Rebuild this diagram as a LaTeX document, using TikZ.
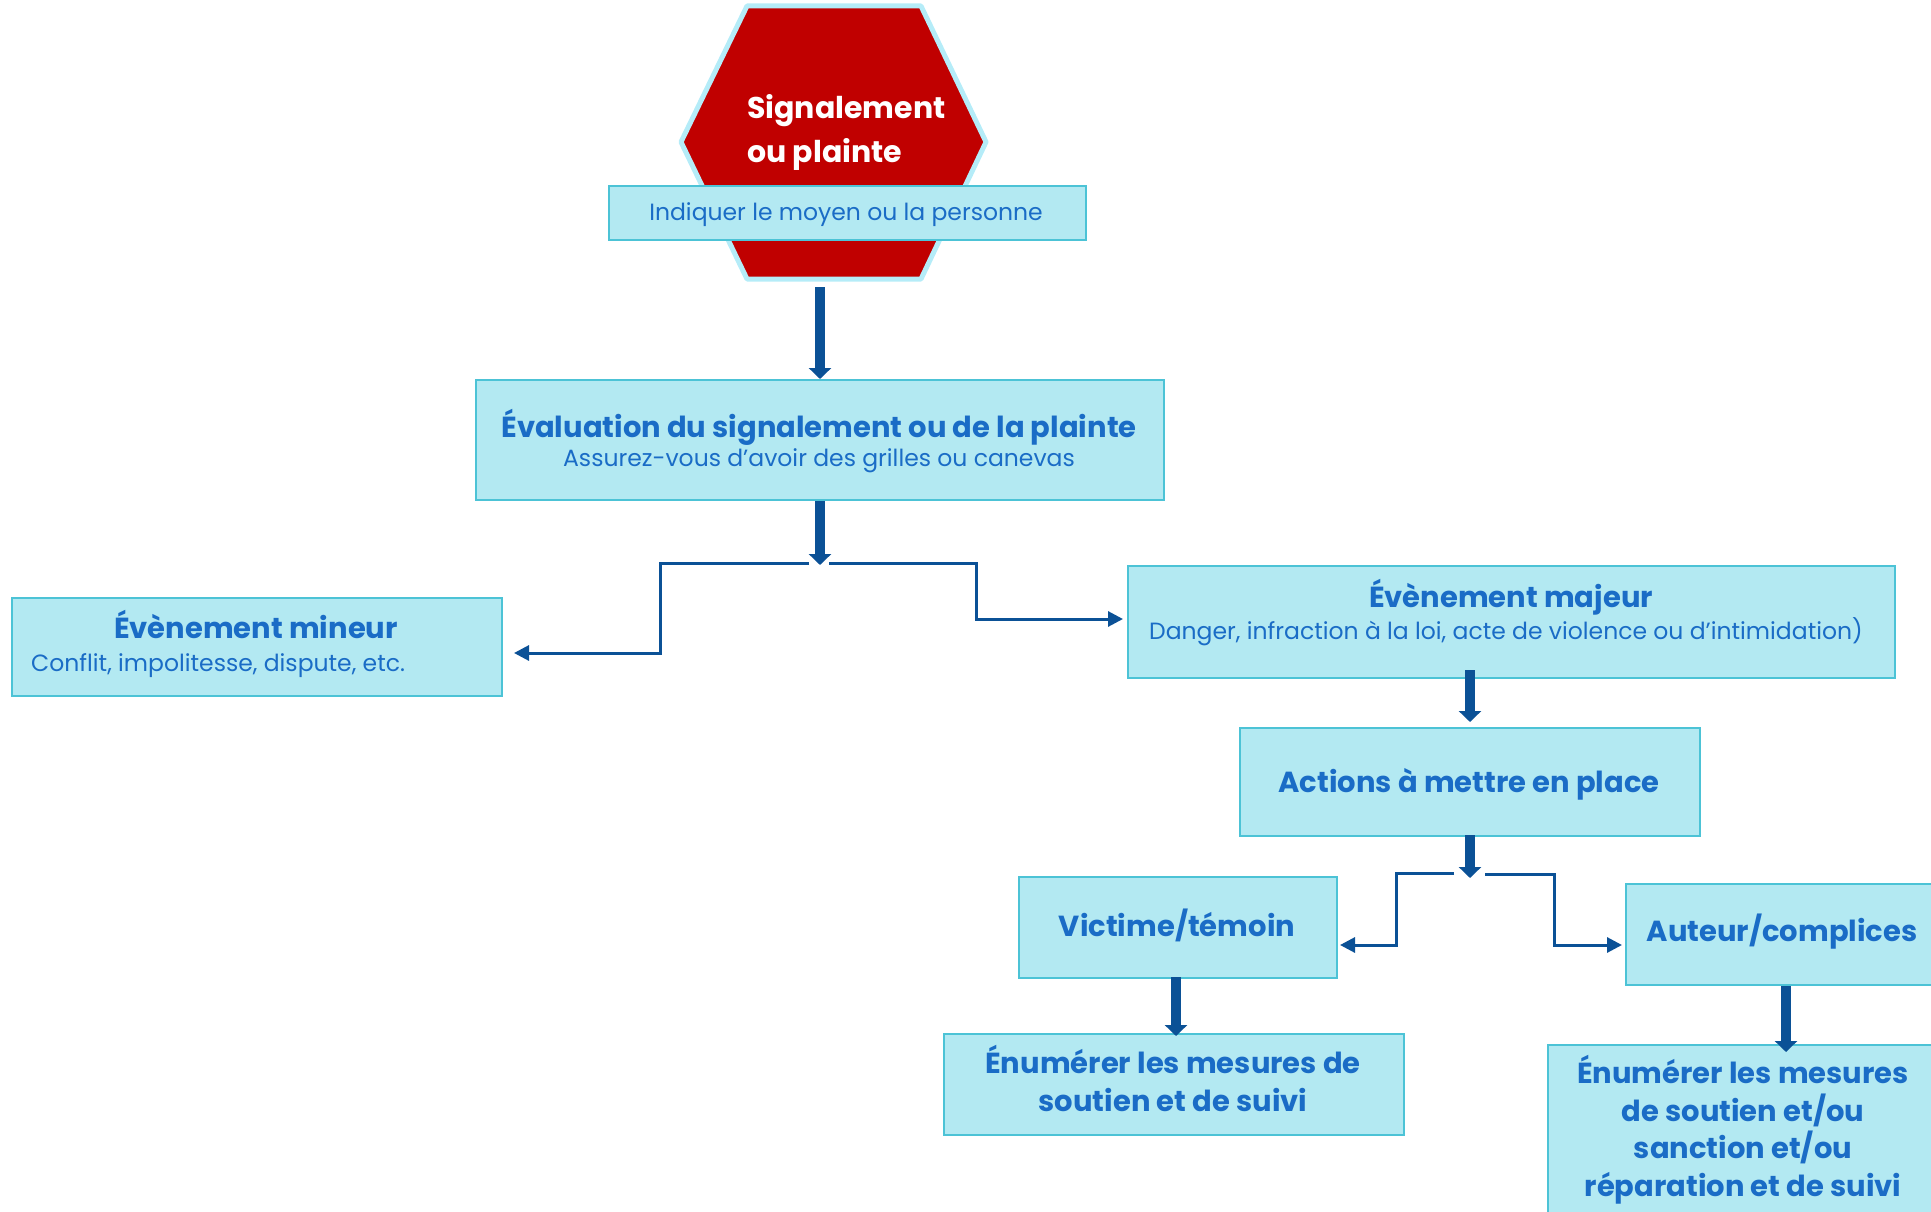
\documentclass[tikz,border=0pt]{standalone}
\usepackage{fontspec}
\setmainfont{Poppins}
\usetikzlibrary{arrows.meta}
\definecolor{boxfill}{HTML}{B3E9F2}
\definecolor{boxline}{HTML}{4CC3D6}
\definecolor{txtblue}{HTML}{1A6CC6}
\definecolor{arrblue}{HTML}{0B5196}
\definecolor{stopred}{HTML}{C00000}
\definecolor{stopline}{HTML}{B5ECF8}
\begin{document}
\begin{tikzpicture}[x=1pt,y=-1pt,
  box/.style={draw=boxline, fill=boxfill, line width=2pt, inner sep=0pt, anchor=north west},
  ttl/.style={font=\bfseries\fontsize{29}{38}\selectfont, text=txtblue, anchor=base, inner sep=0pt, align=center},
  subt/.style={font=\fontsize{23.5}{28}\selectfont, text=txtblue, anchor=base, inner sep=0pt},
  bigarrow/.style={draw=arrblue, line width=10pt, -{Triangle[width=22pt,length=11pt]}},
  thinarrow/.style={draw=arrblue, line width=3pt, -{Triangle[width=15pt,length=15pt]}}
]
\clip (0,0) rectangle (1931,1212);
% hexagon
\path[fill=stopred, draw=stopline, line width=5pt, line join=round]
  (747,6) -- (921,6) -- (986,142) -- (921,279) -- (747,279) -- (681,142) -- cycle;
\node[font=\bfseries\fontsize{30}{44}\selectfont, text=white, anchor=base west, inner sep=0pt, align=left] (sigT) at (747,163) {Signalement\\ou plainte};
% boxes
\node[box, minimum width=477pt, minimum height=54pt] (ind) at (608,185) {};
\node[subt] (indT) at (846,220) {Indiquer le moyen ou la personne};
\node[box, minimum width=688pt, minimum height=120pt] (eval) at (475,379) {};
\node[ttl] (evalT) at (819,437) {Évaluation du signalement ou de la plainte};
\node[subt] (evalS) at (819,466) {Assurez-vous d’avoir des grilles ou canevas};
\node[box, minimum width=490pt, minimum height=98pt] (minor) at (11,597) {};
\node[ttl] (minorT) at (256,638) {Évènement mineur};
\node[subt, anchor=base west] (minorS) at (31,671) {Conflit, impolitesse, dispute, etc.};
\node[box, minimum width=767pt, minimum height=112pt] (major) at (1127,565) {};
\node[ttl] (majorT) at (1511,607) {Évènement majeur};
\node[subt] (majorS) at (1506,639) {Danger, infraction à la loi, acte de violence ou d’intimidation)};
\node[box, minimum width=460pt, minimum height=108pt] (act) at (1239,727) {};
\node[ttl] (actT) at (1469,792) {Actions à mettre en place};
\node[box, minimum width=318pt, minimum height=101pt] (vic) at (1018,876) {};
\node[ttl] (vicT) at (1177,936) {Victime/témoin};
\node[box, minimum width=460pt, minimum height=101pt] (enA) at (943,1033) {};
\node[ttl] (enAT) at (1173,1111) {Énumérer les mesures de\\soutien et de suivi};
\node[box, minimum width=320pt, minimum height=101pt] (aut) at (1625,883) {};
\node[ttl] (autT) at (1782,941) {Auteur/complices};
\node[box, minimum width=400pt, minimum height=200pt] (enB) at (1547,1044) {};
\node[ttl, font=\bfseries\fontsize{29}{37.5}\selectfont] (enBT) at (1743,1196) {Énumérer les mesures\\de soutien et/ou\\sanction et/ou\\réparation et de suivi};
% connectors
\coordinate (s1) at (820,565);
\coordinate (s2) at (1470,878);
\draw[bigarrow] (820,287) -- (eval.north);
\draw[bigarrow] (eval.south) -- (s1);
\draw[thinarrow] (809,563) -| (660,653) -- ([xshift=11pt]minor.east |- 0,653);
\draw[thinarrow] (829,563) -| (976,619) -- ([xshift=-4pt]major.west |- 0,619);
\draw[bigarrow] (1470,670) -- (1470,722);
\draw[bigarrow] (1470,835) -- (s2);
\draw[thinarrow] (1454,873) -| (1396,945) -- ([xshift=2pt]vic.east |- 0,945);
\draw[thinarrow] (1485,874) -| (1554,945) -- ([xshift=-3pt]aut.west |- 0,945);
\draw[bigarrow] (1176,977) -- ([yshift=-3pt]enA.north -| 1176,0);
\draw[bigarrow] (aut.south) -- ([yshift=-8pt]enB.north -| aut.south);
\end{tikzpicture}
\end{document}
